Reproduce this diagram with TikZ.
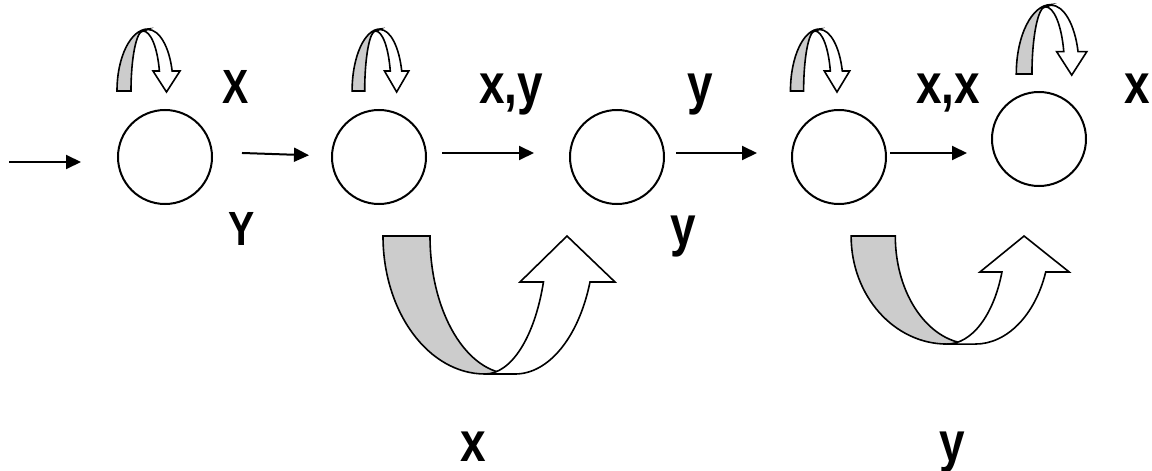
\documentclass[tikz,border=0pt]{standalone}
\usepackage{fontspec}
\usepackage{tikz}
\usetikzlibrary{arrows.meta}
\newfontfamily\lblfont[FakeStretch=0.82]{Liberation Sans}
\definecolor{backgray}{HTML}{CCCCCC}

\begin{document}
\begin{tikzpicture}[
  x=0.5pt,y=-0.5pt,
  state/.style={draw,circle,line width=1pt,minimum size=47pt,inner sep=0pt},
  arrow/.style={-{Triangle[length=7.5pt,width=7pt]},line width=1pt},
  band/.style={draw,line width=0.8pt},
  lbl/.style={font=\lblfont\bfseries\fontsize{28}{30}\selectfont,anchor=base,inner sep=0pt},
  caplbl/.style={lbl,font=\lblfont\bfseries\fontsize{24}{26}\selectfont},
  selfloop/.pic={
    \path[band,fill=backgray] (-31,0) arc[start angle=180,end angle=270,x radius=31,y radius=62]
      -- (-5,-60) arc[start angle=270,end angle=180,x radius=12,y radius=60] -- cycle;
    \path[band,fill=white] (-5,-60) arc[start angle=270,end angle=345,x radius=17,y radius=54]
      -- (5,-20) -- (18.5,1) -- (32,-20) -- (24.15,-20)
      arc[start angle=345,end angle=270,x radius=25,y radius=56] -- cycle;
  },
  jumpback/.pic={
    \path[band,fill=backgray] (-102,0) arc[start angle=180,end angle=90,x radius=102,y radius=138]
      -- (27,138) arc[start angle=90,end angle=180,x radius=82,y radius=138] -- cycle;
    \path[band,fill=white] (0,138) arc[start angle=90,end angle=19.47,x radius=62,y radius=138]
      -- (35,46) -- (82,0) -- (130,46) -- (105,46)
      arc[start angle=19.47,end angle=90,x radius=79.5,y radius=138] -- cycle;
  }
]
\useasboundingbox (0,0) rectangle (1152,471);
\node[state] (q1) at (165,157) {};
\node[state] (q2) at (379,157) {};
\node[state] (q3) at (617,157) {};
\node[state] (q4) at (839,157) {};
\node[state] (q5) at (1039,139) {};
\coordinate (in) at (9,162);
\draw[arrow,shorten >=18pt] (in) -- ([yshift=-2.5pt]q1.west);
\draw[arrow,shorten <=14.5pt,shorten >=11pt] ([yshift=2.5pt]q1.east) -- ([yshift=0.5pt]q2.west);
\draw[arrow,shorten <=7.5pt,shorten >=17.5pt] ([yshift=2pt]q2.east) -- ([yshift=2pt]q3.west);
\draw[arrow,shorten <=5.5pt,shorten >=17pt] ([yshift=2pt]q3.east) -- ([yshift=2pt]q4.west);
\draw[arrow,shorten <=1.5pt,shorten >=12pt] ([yshift=2pt]q4.east) -- ([yshift=2pt]q4.east -| q5.west);
\pic at (148,91) {selfloop};
\pic[xscale=0.9] at (380,91) {selfloop};
\pic[xscale=0.94] at (819.6,91) {selfloop};
\pic[scale=1.12] at (1051,74) {selfloop};
\pic at (485,236) {jumpback};
\pic[xscale=0.94,yscale=0.783] at (947,236) {jumpback};
\node[caplbl] (lx1) at (236,103) {X};
\node[caplbl] (ly1) at (242,245) {Y};
\node[lbl] (lxy) at (511,103) {x,y};
\node[lbl] (ly2) at (700,103) {y};
\node[lbl] (ly3) at (683,245) {y};
\node[lbl] (lxx) at (948,103) {x,x};
\node[lbl] (lx2) at (1137,103) {x};
\node[lbl] (lx3) at (473,461) {x};
\node[lbl] (ly4) at (952,461) {y};
\end{tikzpicture}
\end{document}
